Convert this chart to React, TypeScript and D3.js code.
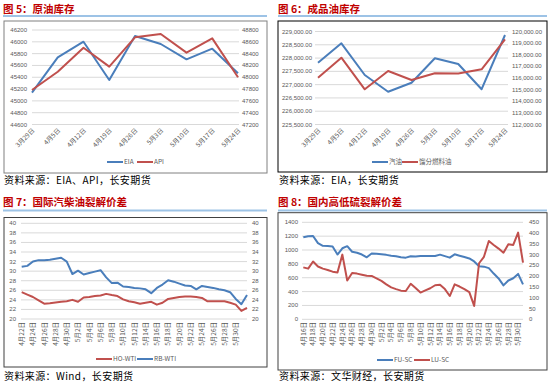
import React, { useEffect, useRef } from "react";
import * as d3 from "d3";

// 图5 / 图6 weekly categories
const weeks = ["3月29日", "4月5日", "4月12日", "4月19日", "4月26日", "5月3日", "5月10日", "5月17日", "5月24日"];
const eia = [45139, 45738, 46002, 45353, 46098, 45963, 45703, 45884, 45467];
const api = [47784, 48094, 48500, 48179, 48676, 48732, 48416, 48659, 47999];
const gasoline = [227826, 228556, 227363, 226734, 227073, 227991, 227777, 226828, 228868];
const distillate = [116026, 117746, 115028, 116602, 115828, 116404, 116380, 116748, 119329];

// 图7 daily categories
const crackDays = [
  "4月22日", "4月23日", "4月24日", "4月25日", "4月26日", "4月27日", "4月28日", "4月29日", "4月30日",
  "5月1日", "5月2日", "5月3日", "5月4日", "5月5日", "5月6日", "5月7日", "5月8日", "5月9日", "5月10日",
  "5月11日", "5月12日", "5月13日", "5月14日", "5月15日", "5月16日", "5月17日", "5月18日", "5月19日",
  "5月20日", "5月21日", "5月22日", "5月23日", "5月24日", "5月25日", "5月26日", "5月27日", "5月28日",
  "5月29日", "5月30日", "5月31日", "6月1日",
];
const hoWti = [
  25.6, 25.1, 24.6, 23.9, 23.2, 23.3, 23.45, 23.6, 23.7, 24.0, 23.6, 24.5, 24.6, 24.8, 24.9, 25.25,
  25.0, 24.8, 24.1, 23.7, 23.5, 23.2, 23.4, 23.6, 23.0, 23.4, 24.2, 24.4, 24.6, 24.7, 24.7, 24.6,
  24.4, 23.7, 23.7, 23.7, 23.7, 23.4, 23.0, 21.7, 22.35,
];
const rbWti = [
  30.9, 31.1, 32.0, 32.3, 32.3, 32.4, 32.6, 32.8, 32.0, 29.4, 30.1, 29.3, 29.6, 29.9, 30.2, 28.7,
  27.5, 27.6, 26.8, 26.7, 26.5, 26.4, 26.2, 25.4, 26.5, 27.2, 28.1, 27.8, 27.4, 27.0, 26.9, 26.2,
  26.9, 26.7, 26.5, 26.2, 26.0, 25.6, 24.2, 23.1, 25.0,
];

// 图8 daily categories
const sulfurDays = [
  "4月16日", "4月17日", "4月18日", "4月19日", "4月20日", "4月21日", "4月22日", "4月23日", "4月24日",
  "4月25日", "4月26日", "4月27日", "4月28日", "4月29日", "4月30日", "5月1日", "5月2日", "5月3日",
  "5月4日", "5月5日", "5月6日", "5月7日", "5月8日", "5月9日", "5月10日", "5月11日", "5月12日",
  "5月13日", "5月14日", "5月15日", "5月16日", "5月17日", "5月18日", "5月19日", "5月20日", "5月21日",
  "5月22日", "5月23日", "5月24日", "5月25日", "5月26日", "5月27日", "5月28日", "5月29日", "5月30日",
  "5月31日",
];
const fuSc = [
  1183, 1200, 1203, 1100, 1060, 1058, 1050, 935, 1025, 1055, 975, 960, 935, 895, 950, 945, 938, 930,
  918, 910, 895, 890, 910, 908, 914, 914, 914, 914, 933, 912, 890, 938, 918, 898, 878, 835, 765, 760,
  738, 660, 590, 490, 560, 592, 655, 505,
];
const luSc = [
  241, 235, 268, 245, 235, 229, 221, 217, 300, 180, 215, 212, 207, 202, 201, 190, 178, 162, 148, 140,
  133, 131, 165, 145, 124, 134, 144, 158, 160, 140, 108, 162, 152, 140, 126, 62, 260, 290, 363, 345,
  328, 309, 348, 345, 402, 263,
];

const BLUE = "#4A7EBB";
const RED = "#C0504D";
const CJK = "'Noto Sans CJK SC', sans-serif";
const NUM = "'Liberation Sans', Arial, sans-serif";

function drawPanel(root, o) {
  const g = root.append("g");

  g.append("text")
    .attr("x", o.x0)
    .attr("y", o.titleY)
    .attr("font-family", CJK)
    .attr("font-size", 10.5)
    .attr("font-weight", "bold")
    .attr("fill", "#C00000")
    .text(o.title);

  g.append("line")
    .attr("x1", o.x0)
    .attr("x2", o.x1)
    .attr("y1", o.lineY)
    .attr("y2", o.lineY)
    .attr("stroke", "#9DC3E6")
    .attr("stroke-width", 2);

  const [bx0, by0, bx1, by1] = o.box;
  g.append("rect")
    .attr("x", bx0)
    .attr("y", by0)
    .attr("width", bx1 - bx0)
    .attr("height", by1 - by0)
    .attr("fill", "#fff")
    .attr("stroke", o.boxColor)
    .attr("stroke-width", 1);

  const y = d3.scaleLinear().domain(o.left.domain).range([o.bottom, o.top]);
  const yr = d3.scaleLinear().domain(o.right.domain).range([o.bottom, o.top]);
  const x = d3.scalePoint().domain(o.cats).range(o.lineX);

  const leftTicks = d3.range(o.left.domain[0], o.left.domain[1] + o.left.step / 2, o.left.step);
  const rightTicks = d3.range(o.right.domain[0], o.right.domain[1] + o.right.step / 2, o.right.step);

  g.append("g")
    .selectAll("line")
    .data(leftTicks)
    .join("line")
    .attr("x1", o.gridX[0])
    .attr("x2", o.gridX[1])
    .attr("y1", (d) => y(d))
    .attr("y2", (d) => y(d))
    .attr("stroke", "#D9D9D9")
    .attr("stroke-width", 1);

  g.append("g")
    .selectAll("text")
    .data(leftTicks)
    .join("text")
    .attr("x", o.left.x)
    .attr("y", (d) => y(d) + 2)
    .attr("text-anchor", "end")
    .attr("font-family", NUM)
    .attr("font-size", o.tickSize)
    .attr("fill", "#595959")
    .text((d) => o.left.fmt(d));

  g.append("g")
    .selectAll("text")
    .data(rightTicks)
    .join("text")
    .attr("x", o.right.x)
    .attr("y", (d) => yr(d) + 2)
    .attr("text-anchor", "start")
    .attr("font-family", NUM)
    .attr("font-size", o.tickSize)
    .attr("fill", "#595959")
    .text((d) => o.right.fmt(d));

  const labels = o.cats.filter((d, i) => i % o.every === 0 && i <= o.lastLabel);
  g.append("g")
    .selectAll("text")
    .data(labels)
    .join("text")
    .attr("text-anchor", "end")
    .attr("font-family", CJK)
    .attr("font-size", 6.5)
    .attr("fill", "#595959")
    .attr("transform", (d) =>
      o.vertical
        ? `translate(${x(d) + 2.3},${o.labelY}) rotate(-90)`
        : `translate(${x(d) + 3},${o.labelY}) rotate(-45)`
    )
    .text((d) => d);

  o.series.forEach((s) => {
    const sc = s.axis === "r" ? yr : y;
    g.append("path")
      .datum(s.values)
      .attr("fill", "none")
      .attr("stroke", s.color)
      .attr("stroke-width", 2)
      .attr("stroke-linejoin", "round")
      .attr(
        "d",
        d3
          .line()
          .x((d, i) => x(o.cats[i]))
          .y((d) => sc(d))
      );
  });

  o.legend.forEach((l) => {
    g.append("line")
      .attr("x1", l.x)
      .attr("x2", l.x + 16)
      .attr("y1", o.legendY)
      .attr("y2", o.legendY)
      .attr("stroke", l.color)
      .attr("stroke-width", 2);
    g.append("text")
      .attr("x", l.x + 17)
      .attr("y", o.legendY + 2.3)
      .attr("font-family", CJK)
      .attr("font-size", 6.5)
      .attr("fill", "#595959")
      .text(l.name);
  });

  g.append("text")
    .attr("x", o.x0 + 1)
    .attr("y", o.sourceY)
    .attr("font-family", CJK)
    .attr("font-size", 10)
    .attr("letter-spacing", 0.4)
    .attr("fill", "#000")
    .text(o.source);
}

const App = () => {
  const ref = useRef(null);

  useEffect(() => {
    const svg = d3.select(ref.current);
    svg.selectAll("*").remove();
    svg.append("rect").attr("width", 550).attr("height", 386).attr("fill", "#fff");

    const plain = d3.format("d");

    drawPanel(svg, {
      title: "图 5：原油库存",
      x0: 3,
      x1: 267,
      titleY: 12.5,
      lineY: 16,
      box: [4, 21, 267, 173],
      boxColor: "#808080",
      top: 30,
      bottom: 124.5,
      gridX: [32, 239],
      tickSize: 6,
      left: { domain: [44600, 46200], step: 200, x: 27, fmt: plain },
      right: { domain: [47200, 48800], step: 200, x: 242, fmt: plain },
      cats: weeks,
      lineX: [32, 238],
      every: 1,
      lastLabel: 8,
      vertical: false,
      labelY: 131,
      series: [
        { values: eia, color: BLUE, axis: "l" },
        { values: api, color: RED, axis: "r" },
      ],
      legendY: 162,
      legend: [
        { name: "EIA", color: BLUE, x: 107 },
        { name: "API", color: RED, x: 137 },
      ],
      sourceY: 184,
      source: "资料来源：EIA、API，长安期货",
    });

    drawPanel(svg, {
      title: "图 6：成品油库存",
      x0: 278,
      x1: 547,
      titleY: 12.5,
      lineY: 16,
      box: [278, 21, 547, 172],
      boxColor: "#000",
      top: 31.5,
      bottom: 124.5,
      gridX: [315, 508],
      tickSize: 6,
      left: { domain: [225500, 229000], step: 500, x: 312, fmt: d3.format(",.2f") },
      right: { domain: [112000, 120000], step: 1000, x: 512, fmt: d3.format(",.2f") },
      cats: weeks,
      lineX: [318, 505],
      every: 1,
      lastLabel: 8,
      vertical: false,
      labelY: 131,
      series: [
        { values: gasoline, color: BLUE, axis: "l" },
        { values: distillate, color: RED, axis: "r" },
      ],
      legendY: 162,
      legend: [
        { name: "汽油", color: BLUE, x: 372 },
        { name: "馏分燃料油", color: RED, x: 402 },
      ],
      sourceY: 184,
      source: "资料来源：EIA，长安期货",
    });

    drawPanel(svg, {
      title: "图 7：国际汽柴油裂解价差",
      x0: 3,
      x1: 267,
      titleY: 206,
      lineY: 210.5,
      box: [4, 217.5, 267, 367],
      boxColor: "#404040",
      top: 223.3,
      bottom: 319,
      gridX: [21, 247],
      tickSize: 6,
      left: { domain: [20, 40], step: 2, x: 16, fmt: plain },
      right: { domain: [20, 40], step: 2, x: 252, fmt: plain },
      cats: crackDays,
      lineX: [21.7, 247],
      every: 2,
      lastLabel: 38,
      vertical: true,
      labelY: 322,
      series: [
        { values: hoWti, color: RED, axis: "l" },
        { values: rbWti, color: BLUE, axis: "l" },
      ],
      legendY: 359,
      legend: [
        { name: "HO-WTI", color: RED, x: 96 },
        { name: "RB-WTI", color: BLUE, x: 137 },
      ],
      sourceY: 380,
      source: "资料来源：Wind，长安期货",
    });

    drawPanel(svg, {
      title: "图 8：国内高低硫裂解价差",
      x0: 278,
      x1: 547,
      titleY: 206,
      lineY: 210.5,
      box: [278, 212.7, 547, 370],
      boxColor: "#404040",
      top: 222.3,
      bottom: 319.3,
      gridX: [302, 523],
      tickSize: 6,
      left: { domain: [0, 1400], step: 200, x: 298, fmt: plain },
      right: { domain: [0, 450], step: 50, x: 529, fmt: plain },
      cats: sulfurDays,
      lineX: [303.3, 523],
      every: 2,
      lastLabel: 44,
      vertical: true,
      labelY: 322,
      series: [
        { values: fuSc, color: BLUE, axis: "l" },
        { values: luSc, color: RED, axis: "r" },
      ],
      legendY: 360,
      legend: [
        { name: "FU-SC", color: BLUE, x: 377 },
        { name: "LU-SC", color: RED, x: 414 },
      ],
      sourceY: 380,
      source: "资料来源：文华财经，长安期货",
    });
  }, []);

  return (
    <svg
      ref={ref}
      width={550}
      height={386}
      style={{ position: "absolute", left: 0, top: 0 }}
    />
  );
};

export default App;
